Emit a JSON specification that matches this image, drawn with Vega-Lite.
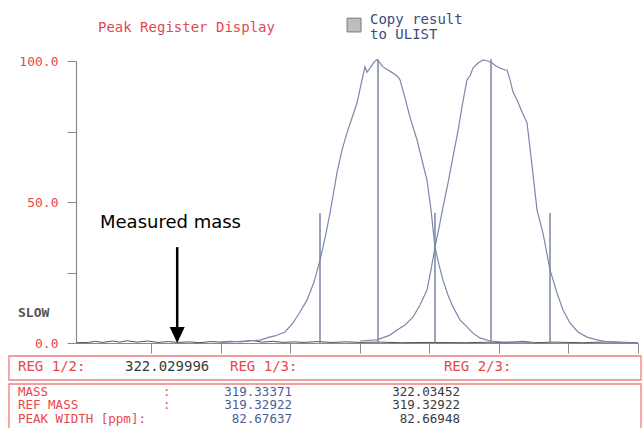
{
  "$schema": "https://vega.github.io/schema/vega-lite/v6.json",
  "width": 562,
  "height": 282,
  "autosize": {"type": "none"},
  "padding": {"left": 76, "top": 61, "right": 5, "bottom": 85},
  "background": "white",
  "config": {"view": {"stroke": null}},
  "datasets": {
    "peaks": [
      {"pos": 2.0, "intensity": 0.2, "series": "peak1"},
      {"pos": 2.3, "intensity": 0.6, "series": "peak1"},
      {"pos": 2.565, "intensity": 1.0, "series": "peak1"},
      {"pos": 2.7, "intensity": 2.1, "series": "peak1"},
      {"pos": 2.781, "intensity": 2.5, "series": "peak1"},
      {"pos": 2.925, "intensity": 3.9, "series": "peak1"},
      {"pos": 3.04, "intensity": 7.1, "series": "peak1"},
      {"pos": 3.14, "intensity": 11.0, "series": "peak1"},
      {"pos": 3.241, "intensity": 15.2, "series": "peak1"},
      {"pos": 3.342, "intensity": 21.6, "series": "peak1"},
      {"pos": 3.428, "intensity": 29.4, "series": "peak1"},
      {"pos": 3.5, "intensity": 37.2, "series": "peak1"},
      {"pos": 3.572, "intensity": 46.1, "series": "peak1"},
      {"pos": 3.672, "intensity": 60.3, "series": "peak1"},
      {"pos": 3.744, "intensity": 68.4, "series": "peak1"},
      {"pos": 3.816, "intensity": 74.5, "series": "peak1"},
      {"pos": 3.888, "intensity": 79.8, "series": "peak1"},
      {"pos": 3.96, "intensity": 85.1, "series": "peak1"},
      {"pos": 4.032, "intensity": 93.3, "series": "peak1"},
      {"pos": 4.075, "intensity": 97.9, "series": "peak1"},
      {"pos": 4.104, "intensity": 96.0, "series": "peak1"},
      {"pos": 4.147, "intensity": 97.5, "series": "peak1"},
      {"pos": 4.204, "intensity": 99.6, "series": "peak1"},
      {"pos": 4.247, "intensity": 100.5, "series": "peak1"},
      {"pos": 4.29, "intensity": 99.3, "series": "peak1"},
      {"pos": 4.333, "intensity": 97.9, "series": "peak1"},
      {"pos": 4.405, "intensity": 96.8, "series": "peak1"},
      {"pos": 4.477, "intensity": 95.7, "series": "peak1"},
      {"pos": 4.535, "intensity": 94.7, "series": "peak1"},
      {"pos": 4.578, "intensity": 93.3, "series": "peak1"},
      {"pos": 4.65, "intensity": 86.9, "series": "peak1"},
      {"pos": 4.722, "intensity": 80.1, "series": "peak1"},
      {"pos": 4.823, "intensity": 72.0, "series": "peak1"},
      {"pos": 4.894, "intensity": 64.9, "series": "peak1"},
      {"pos": 4.966, "intensity": 57.8, "series": "peak1"},
      {"pos": 5.024, "intensity": 47.2, "series": "peak1"},
      {"pos": 5.081, "intensity": 34.0, "series": "peak1"},
      {"pos": 5.139, "intensity": 27.7, "series": "peak1"},
      {"pos": 5.196, "intensity": 22.3, "series": "peak1"},
      {"pos": 5.268, "intensity": 17.0, "series": "peak1"},
      {"pos": 5.34, "intensity": 12.8, "series": "peak1"},
      {"pos": 5.441, "intensity": 8.2, "series": "peak1"},
      {"pos": 5.541, "intensity": 5.7, "series": "peak1"},
      {"pos": 5.628, "intensity": 3.5, "series": "peak1"},
      {"pos": 5.728, "intensity": 1.8, "series": "peak1"},
      {"pos": 5.872, "intensity": 0.7, "series": "peak1"},
      {"pos": 6.016, "intensity": 0.4, "series": "peak1"},
      {"pos": 6.5, "intensity": 0.2, "series": "peak1"},
      {"pos": 4.003, "intensity": 0.7, "series": "peak2"},
      {"pos": 4.247, "intensity": 1.1, "series": "peak2"},
      {"pos": 4.434, "intensity": 2.8, "series": "peak2"},
      {"pos": 4.535, "intensity": 4.6, "series": "peak2"},
      {"pos": 4.65, "intensity": 6.4, "series": "peak2"},
      {"pos": 4.765, "intensity": 9.2, "series": "peak2"},
      {"pos": 4.866, "intensity": 13.5, "series": "peak2"},
      {"pos": 4.966, "intensity": 18.8, "series": "peak2"},
      {"pos": 5.024, "intensity": 25.9, "series": "peak2"},
      {"pos": 5.081, "intensity": 34.0, "series": "peak2"},
      {"pos": 5.139, "intensity": 40.8, "series": "peak2"},
      {"pos": 5.196, "intensity": 48.2, "series": "peak2"},
      {"pos": 5.268, "intensity": 56.7, "series": "peak2"},
      {"pos": 5.34, "intensity": 66.0, "series": "peak2"},
      {"pos": 5.412, "intensity": 75.2, "series": "peak2"},
      {"pos": 5.469, "intensity": 83.7, "series": "peak2"},
      {"pos": 5.541, "intensity": 93.3, "series": "peak2"},
      {"pos": 5.585, "intensity": 94.7, "series": "peak2"},
      {"pos": 5.628, "intensity": 97.5, "series": "peak2"},
      {"pos": 5.7, "intensity": 99.3, "series": "peak2"},
      {"pos": 5.772, "intensity": 100.4, "series": "peak2"},
      {"pos": 5.844, "intensity": 100.0, "series": "peak2"},
      {"pos": 5.901, "intensity": 99.3, "series": "peak2"},
      {"pos": 5.959, "intensity": 98.2, "series": "peak2"},
      {"pos": 6.016, "intensity": 97.5, "series": "peak2"},
      {"pos": 6.088, "intensity": 96.8, "series": "peak2"},
      {"pos": 6.117, "intensity": 96.8, "series": "peak2"},
      {"pos": 6.16, "intensity": 93.3, "series": "peak2"},
      {"pos": 6.203, "intensity": 89.0, "series": "peak2"},
      {"pos": 6.261, "intensity": 86.2, "series": "peak2"},
      {"pos": 6.333, "intensity": 81.9, "series": "peak2"},
      {"pos": 6.405, "intensity": 78.0, "series": "peak2"},
      {"pos": 6.476, "intensity": 63.1, "series": "peak2"},
      {"pos": 6.548, "intensity": 47.2, "series": "peak2"},
      {"pos": 6.634, "intensity": 39.0, "series": "peak2"},
      {"pos": 6.735, "intensity": 25.9, "series": "peak2"},
      {"pos": 6.836, "intensity": 17.7, "series": "peak2"},
      {"pos": 6.922, "intensity": 11.7, "series": "peak2"},
      {"pos": 7.022, "intensity": 7.1, "series": "peak2"},
      {"pos": 7.137, "intensity": 3.9, "series": "peak2"},
      {"pos": 7.267, "intensity": 2.1, "series": "peak2"},
      {"pos": 7.41, "intensity": 1.1, "series": "peak2"},
      {"pos": 7.554, "intensity": 0.4, "series": "peak2"},
      {"pos": 7.741, "intensity": 0.1, "series": "peak2"},
      {"pos": 8.0, "intensity": 0.0, "series": "peak2"}
    ],
    "baseline": [
      {"pos": -0.07, "intensity": 0.1},
      {"pos": 0.1, "intensity": 0.2},
      {"pos": 0.2, "intensity": 0.6},
      {"pos": 0.3, "intensity": 0.2},
      {"pos": 0.45, "intensity": 0.7},
      {"pos": 0.55, "intensity": 0.3},
      {"pos": 0.65, "intensity": 0.8},
      {"pos": 0.8, "intensity": 0.3},
      {"pos": 0.95, "intensity": 0.7},
      {"pos": 1.1, "intensity": 0.2},
      {"pos": 1.25, "intensity": 0.5},
      {"pos": 1.4, "intensity": 0.2},
      {"pos": 1.55, "intensity": 0.4},
      {"pos": 1.7, "intensity": 0.1},
      {"pos": 1.85, "intensity": 0.5},
      {"pos": 2.0, "intensity": 0.3},
      {"pos": 2.15, "intensity": 0.6},
      {"pos": 2.3, "intensity": 0.4},
      {"pos": 2.45, "intensity": 0.9},
      {"pos": 2.6, "intensity": 0.3},
      {"pos": 2.75, "intensity": 0.6},
      {"pos": 2.9, "intensity": 0.2},
      {"pos": 3.05, "intensity": 0.4},
      {"pos": 3.2, "intensity": 0.2},
      {"pos": 3.4, "intensity": 0.5},
      {"pos": 3.6, "intensity": 0.2},
      {"pos": 3.8, "intensity": 0.4},
      {"pos": 4.0, "intensity": 0.2},
      {"pos": 4.3, "intensity": 0.3},
      {"pos": 4.6, "intensity": 0.1},
      {"pos": 5.0, "intensity": 0.2},
      {"pos": 5.5, "intensity": 0.1},
      {"pos": 5.9, "intensity": 0.3},
      {"pos": 6.1, "intensity": 0.1},
      {"pos": 6.35, "intensity": 0.6},
      {"pos": 6.5, "intensity": 0.1},
      {"pos": 6.8, "intensity": 0.3},
      {"pos": 7.2, "intensity": 0.1},
      {"pos": 7.6, "intensity": 0.4},
      {"pos": 8.0, "intensity": 0.1}
    ],
    "markers": [
      {"pos": 3.428, "bottom": 0, "top": 46.1},
      {"pos": 4.262, "bottom": 0, "top": 100.6},
      {"pos": 5.081, "bottom": 0, "top": 46.1},
      {"pos": 5.887, "bottom": 0, "top": 100.6},
      {"pos": 6.735, "bottom": 0, "top": 46.1}
    ],
    "boxes": [
      {"left": -1.044, "right": 8.043, "upper": -4.61, "lower": -13.12},
      {"left": -1.044, "right": 8.043, "upper": -14.54, "lower": -36.0}
    ],
    "checkbox": [
      {"left": 3.817, "right": 4.018, "upper": 115.2, "lower": 110.3}
    ],
    "arrow": [
      {"pos": 1.375, "from": 34.0, "to": 5.0, "head": 2.84}
    ],
    "titleText": [
      {"pos": 0.236, "val": 111.7, "label": "Peak Register Display", "kind": "red"},
      {"pos": 4.147, "val": 114.5, "label": "Copy result", "kind": "blue2"},
      {"pos": 4.147, "val": 109.2, "label": "to ULIST", "kind": "blue2"},
      {"pos": -0.914, "val": -8.51, "label": "REG 1/2:", "kind": "red"},
      {"pos": 0.624, "val": -8.51, "label": "322.029996", "kind": "dark"},
      {"pos": 2.134, "val": -8.51, "label": "REG 1/3:", "kind": "red"},
      {"pos": 5.21, "val": -8.51, "label": "REG 2/3:", "kind": "red"}
    ],
    "textLeft": [
      {"pos": -0.914, "val": -17.38, "label": "MASS", "kind": "red"},
      {"pos": -0.914, "val": -22.16, "label": "REF MASS", "kind": "red"},
      {"pos": -0.914, "val": -26.95, "label": "PEAK WIDTH [ppm]:", "kind": "red"},
      {"pos": 1.17, "val": -17.38, "label": ":", "kind": "red"},
      {"pos": 1.17, "val": -22.16, "label": ":", "kind": "red"}
    ],
    "textRight": [
      {"pos": 3.025, "val": -17.38, "label": "319.33371", "kind": "blue"},
      {"pos": 3.025, "val": -22.16, "label": "319.32922", "kind": "blue"},
      {"pos": 3.025, "val": -26.95, "label": "82.67637", "kind": "blue"},
      {"pos": 5.44, "val": -17.38, "label": "322.03452", "kind": "dark"},
      {"pos": 5.44, "val": -22.16, "label": "319.32922", "kind": "dark"},
      {"pos": 5.44, "val": -26.95, "label": "82.66948", "kind": "dark"}
    ],
    "slow": [
      {"pos": -0.914, "val": 10.6, "label": "SLOW"}
    ],
    "note": [
      {"pos": 0.265, "val": 42.4, "label": "Measured mass"}
    ]
  },
  "layer": [
    {
      "data": {"name": "baseline"},
      "mark": {"type": "line", "color": "#555555", "strokeWidth": 1, "clip": false},
      "encoding": {
        "x": {"field": "pos", "type": "quantitative", "scale": {"domain": [-0.08, 8], "nice": false, "zero": false},
          "axis": {"values": [1, 2, 3, 4, 5, 6, 7, 8], "labels": false, "tickSize": 10, "domainColor": "#8a8a8a", "tickColor": "#8a8a8a", "grid": false, "title": null, "domainWidth": 1.2}},
        "y": {"field": "intensity", "type": "quantitative", "scale": {"domain": [0, 100], "nice": false, "zero": false},
          "axis": {"values": [0, 25, 50, 75, 100], "labelExpr": "datum.value % 50 === 0 ? format(datum.value, '.1f') : ''", "labelColor": "#e5484d", "labelFont": "DejaVu Sans Mono", "labelFontSize": 13, "tickSize": 9, "labelPadding": 9, "tickColor": "#8a8a8a", "domainColor": "#8a8a8a", "grid": false, "title": null, "domainWidth": 1.2}}
      }
    },
    {
      "data": {"name": "boxes"},
      "mark": {"type": "rect", "fill": "transparent", "stroke": "#ef7f7f", "strokeWidth": 1.3, "clip": false},
      "encoding": {
        "x": {"field": "left", "type": "quantitative", "scale": {"domain": [-0.08, 8], "nice": false, "zero": false}},
        "x2": {"field": "right"},
        "y": {"field": "upper", "type": "quantitative", "scale": {"domain": [0, 100], "nice": false, "zero": false}},
        "y2": {"field": "lower"}
      }
    },
    {
      "data": {"name": "checkbox"},
      "mark": {"type": "rect", "fill": "#bdbdbd", "stroke": "#7a7a7a", "strokeWidth": 1, "clip": false},
      "encoding": {
        "x": {"field": "left", "type": "quantitative", "scale": {"domain": [-0.08, 8], "nice": false, "zero": false}},
        "x2": {"field": "right"},
        "y": {"field": "upper", "type": "quantitative", "scale": {"domain": [0, 100], "nice": false, "zero": false}},
        "y2": {"field": "lower"}
      }
    },
    {
      "data": {"name": "peaks"},
      "mark": {"type": "line", "color": "#7d87ab", "strokeWidth": 1.2, "clip": false},
      "encoding": {
        "x": {"field": "pos", "type": "quantitative", "scale": {"domain": [-0.08, 8], "nice": false, "zero": false}},
        "y": {"field": "intensity", "type": "quantitative", "scale": {"domain": [0, 100], "nice": false, "zero": false}},
        "detail": {"field": "series", "type": "nominal"}
      }
    },
    {
      "data": {"name": "markers"},
      "mark": {"type": "rule", "color": "#7a84a4", "strokeWidth": 1.5, "clip": false},
      "encoding": {
        "x": {"field": "pos", "type": "quantitative", "scale": {"domain": [-0.08, 8], "nice": false, "zero": false}},
        "y": {"field": "bottom", "type": "quantitative", "scale": {"domain": [0, 100], "nice": false, "zero": false}},
        "y2": {"field": "top"}
      }
    },
    {
      "data": {"name": "arrow"},
      "mark": {"type": "rule", "color": "#000000", "strokeWidth": 2.5, "clip": false},
      "encoding": {
        "x": {"field": "pos", "type": "quantitative", "scale": {"domain": [-0.08, 8], "nice": false, "zero": false}},
        "y": {"field": "from", "type": "quantitative", "scale": {"domain": [0, 100], "nice": false, "zero": false}},
        "y2": {"field": "to"}
      }
    },
    {
      "data": {"name": "arrow"},
      "mark": {"type": "point", "shape": "M-0.5,-0.53L0.5,-0.53L0,0.53Z", "size": 900, "filled": true, "color": "#000000", "opacity": 1, "strokeWidth": 0, "clip": false},
      "encoding": {
        "x": {"field": "pos", "type": "quantitative", "scale": {"domain": [-0.08, 8], "nice": false, "zero": false}},
        "y": {"field": "head", "type": "quantitative", "scale": {"domain": [0, 100], "nice": false, "zero": false}}
      }
    },
    {
      "data": {"name": "titleText"},
      "mark": {"type": "text", "align": "left", "baseline": "middle", "font": "DejaVu Sans Mono", "fontSize": 14, "clip": false},
      "encoding": {
        "x": {"field": "pos", "type": "quantitative", "scale": {"domain": [-0.08, 8], "nice": false, "zero": false}},
        "y": {"field": "val", "type": "quantitative", "scale": {"domain": [0, 100], "nice": false, "zero": false}},
        "text": {"field": "label", "type": "nominal"},
        "color": {"field": "kind", "type": "nominal", "legend": null,
          "scale": {"domain": ["red", "blue", "blue2", "dark"], "range": ["#e5484d", "#4a5c9c", "#3b4b7e", "#3a3a3a"]}}
      }
    },
    {
      "data": {"name": "textLeft"},
      "mark": {"type": "text", "align": "left", "baseline": "middle", "font": "DejaVu Sans Mono", "fontSize": 12.5, "clip": false},
      "encoding": {
        "x": {"field": "pos", "type": "quantitative", "scale": {"domain": [-0.08, 8], "nice": false, "zero": false}},
        "y": {"field": "val", "type": "quantitative", "scale": {"domain": [0, 100], "nice": false, "zero": false}},
        "text": {"field": "label", "type": "nominal"},
        "color": {"field": "kind", "type": "nominal", "legend": null,
          "scale": {"domain": ["red", "blue", "blue2", "dark"], "range": ["#e5484d", "#4a5c9c", "#3b4b7e", "#3a3a3a"]}}
      }
    },
    {
      "data": {"name": "textRight"},
      "mark": {"type": "text", "align": "right", "baseline": "middle", "font": "DejaVu Sans Mono", "fontSize": 12.5, "clip": false},
      "encoding": {
        "x": {"field": "pos", "type": "quantitative", "scale": {"domain": [-0.08, 8], "nice": false, "zero": false}},
        "y": {"field": "val", "type": "quantitative", "scale": {"domain": [0, 100], "nice": false, "zero": false}},
        "text": {"field": "label", "type": "nominal"},
        "color": {"field": "kind", "type": "nominal", "legend": null,
          "scale": {"domain": ["red", "blue", "blue2", "dark"], "range": ["#e5484d", "#4a5c9c", "#3b4b7e", "#3a3a3a"]}}
      }
    },
    {
      "data": {"name": "slow"},
      "mark": {"type": "text", "align": "left", "baseline": "middle", "font": "DejaVu Sans Mono", "fontSize": 13, "fontWeight": "bold", "color": "#555555", "clip": false},
      "encoding": {
        "x": {"field": "pos", "type": "quantitative", "scale": {"domain": [-0.08, 8], "nice": false, "zero": false}},
        "y": {"field": "val", "type": "quantitative", "scale": {"domain": [0, 100], "nice": false, "zero": false}},
        "text": {"field": "label", "type": "nominal"}
      }
    },
    {
      "data": {"name": "note"},
      "mark": {"type": "text", "align": "left", "baseline": "middle", "font": "DejaVu Sans", "fontSize": 18, "color": "#000000", "clip": false},
      "encoding": {
        "x": {"field": "pos", "type": "quantitative", "scale": {"domain": [-0.08, 8], "nice": false, "zero": false}},
        "y": {"field": "val", "type": "quantitative", "scale": {"domain": [0, 100], "nice": false, "zero": false}},
        "text": {"field": "label", "type": "nominal"}
      }
    }
  ]
}
